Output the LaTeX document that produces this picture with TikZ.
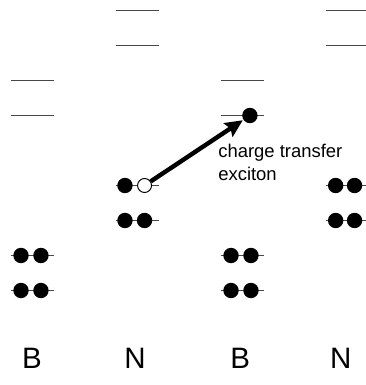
\documentclass[tikz,border=0pt]{standalone}
\usepackage{fontspec}
\setmainfont{Liberation Sans}
\usetikzlibrary{arrows.meta}

\tikzset{
  level/.style={line width=1.5pt, black!72},
  elec/.style={circle, fill=black, inner sep=0pt, minimum size=0.44cm},
  hole/.style={circle, draw=black, fill=white, inner sep=0pt, minimum size=0.40cm, line width=0.8pt},
  site/.style={font=\fontsize{24}{28}\selectfont},
}

\begin{document}
\begin{tikzpicture}
  \useasboundingbox (0,0) rectangle (10.43,11);

% empty levels
\draw[level] (3.3,10.7) -- (4.53,10.7);
\draw[level] (3.3,9.7) -- (4.53,9.7);
\draw[level] (9.3,10.7) -- (10.53,10.7);
\draw[level] (9.3,9.7) -- (10.53,9.7);
\draw[level] (0.3,8.7) -- (1.53,8.7);
\draw[level] (0.3,7.7) -- (1.53,7.7);
\draw[level] (6.3,8.7) -- (7.53,8.7);
\draw[level] (6.3,7.7) -- (7.53,7.7);

% filled levels
\draw[level] (3.3,5.7) -- (4.53,5.7);
\draw[level] (3.3,4.7) -- (4.53,4.7);
\draw[level] (9.3,5.7) -- (10.53,5.7);
\draw[level] (9.3,4.7) -- (10.53,4.7);
\draw[level] (0.3,3.7) -- (1.53,3.7);
\draw[level] (0.3,2.7) -- (1.53,2.7);
\draw[level] (6.3,3.7) -- (7.53,3.7);
\draw[level] (6.3,2.7) -- (7.53,2.7);

% electrons
\node[elec] (na1) at (3.57,5.7) {};
\node[hole] (nh) at (4.13,5.7) {};
\node[elec] (nb1) at (3.57,4.7) {};
\node[elec] (nb2) at (4.13,4.7) {};
\node[elec] (ma1) at (9.59,5.7) {};
\node[elec] (ma2) at (10.13,5.7) {};
\node[elec] (mb1) at (9.59,4.7) {};
\node[elec] (mb2) at (10.13,4.7) {};
\node[elec] (ba1) at (0.6,3.7) {};
\node[elec] (ba2) at (1.17,3.7) {};
\node[elec] (bb1) at (0.6,2.7) {};
\node[elec] (bb2) at (1.17,2.7) {};
\node[elec] (ca1) at (6.6,3.7) {};
\node[elec] (ca2) at (7.17,3.7) {};
\node[elec] (cb1) at (6.6,2.7) {};
\node[elec] (cb2) at (7.17,2.7) {};
\node[elec] (ce) at (7.14,7.7) {};

\draw[-{Stealth[length=0.5cm,width=0.46cm,inset=0.08cm]}, line width=3.6pt, shorten >=0.5pt] (nh) -- (ce);
\node[anchor=base west, inner sep=0pt, align=left, font=\fontsize{15}{19}\selectfont]
  (ct) at (6.23,5.84) {charge transfer\\exciton};

\node[site] (lb1) at (0.91,0.77) {B};
\node[site] (ln1) at (3.86,0.77) {N};
\node[site] (lb2) at (6.86,0.77) {B};
\node[site] (ln2) at (9.74,0.77) {N};
\end{tikzpicture}
\end{document}
